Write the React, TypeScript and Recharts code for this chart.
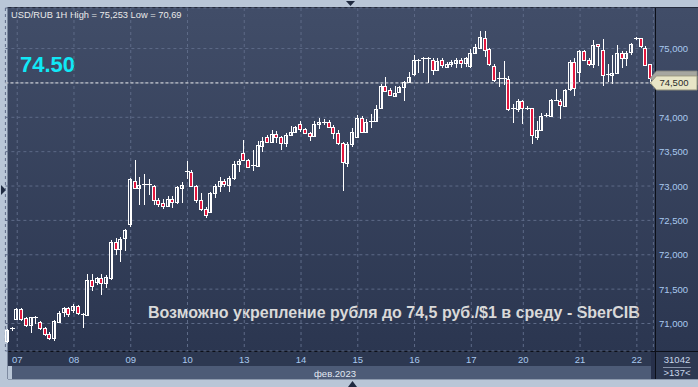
import React from 'react';
import { ComposedChart, Bar, XAxis, YAxis, CartesianGrid, ReferenceLine } from 'recharts';

// trading days on the axis and how many hourly bars each one holds
const days = ['06', '07', '08', '09', '10', '13', '14', '15', '16', '17', '20', '21', '22'];
const barsPerDay = [2, 12, 12, 12, 12, 12, 12, 12, 12, 11, 12, 12, 4];

const opens = [
  70.74, 70.92,
  71.06, 71.21, 71.08, 70.97, 71.08, 71.02, 70.93, 70.85, 70.78, 71.03, 71.16, 71.22,
  71.19, 71.25, 71.13, 71.13, 71.64, 71.6, 71.66, 71.59, 71.66, 72.19, 72.09, 72.24,
  72.45, 73.08, 72.97, 73.02, 73.02, 73.0, 72.8, 72.76, 72.71, 72.81, 72.76, 72.98,
  73.21, 73.21, 73.0, 72.8, 72.67, 72.62, 72.9, 72.99, 73.07, 73.01, 73.11, 73.32,
  73.48, 73.38, 73.28, 73.29, 73.59, 73.71, 73.64, 73.76, 73.71, 73.62, 73.74, 73.78,
  73.9, 73.83, 73.77, 73.72, 73.9, 73.93, 73.93, 73.86, 73.77, 73.62, 73.34, 73.61,
  73.72, 73.99, 73.78, 73.93, 73.94, 74.13, 74.46, 74.39, 74.31, 74.36, 74.43, 74.52,
  74.64, 74.84, 74.86, 74.86, 74.83, 74.69, 74.83, 74.74, 74.77, 74.78, 74.83, 74.78,
  74.74, 74.93, 75.01, 75.16, 74.99, 74.74, 74.56, 74.57, 74.55, 74.12, 74.12,
  74.24, 74.14, 74.13, 73.72, 73.82, 74.02, 74.02, 74.24, 74.24, 74.17, 74.4, 74.8,
  74.65, 74.96, 74.83, 74.77, 75.06, 74.98, 74.62, 74.62, 74.65, 74.94, 74.87, 74.94,
  75.14, 75.15, 75.01, 74.77,
];
const highs = [
  70.92, 70.95,
  71.23, 71.23, 71.09, 71.1, 71.11, 71.03, 70.95, 70.87, 71.05, 71.18, 71.24, 71.24,
  71.29, 71.27, 71.15, 71.72, 71.72, 71.68, 71.72, 71.71, 72.21, 72.24, 72.26, 72.38,
  73.11, 73.38, 73.13, 73.17, 73.1, 73.01, 72.83, 72.81, 72.85, 72.86, 73.0, 73.06,
  73.36, 73.23, 73.01, 72.9, 72.69, 72.91, 73.03, 73.13, 73.1, 73.15, 73.36, 73.4,
  73.67, 73.39, 73.53, 73.66, 73.72, 73.74, 73.82, 73.8, 73.73, 73.77, 73.87, 73.88,
  73.95, 73.85, 73.79, 73.95, 73.99, 73.98, 73.96, 73.89, 73.82, 73.64, 73.64, 73.85,
  74.04, 74.02, 73.97, 74.05, 74.18, 74.48, 74.58, 74.42, 74.46, 74.46, 74.53, 74.66,
  74.91, 74.85, 74.88, 74.87, 74.86, 74.86, 74.86, 74.8, 74.84, 74.86, 74.86, 74.87,
  75.0, 75.06, 75.25, 75.25, 75.01, 74.77, 74.66, 74.82, 74.6, 74.2, 74.27,
  74.25, 74.16, 74.14, 73.94, 74.06, 74.06, 74.26, 74.41, 74.27, 74.41, 74.83, 74.86,
  74.98, 74.98, 74.86, 75.12, 75.06, 75.14, 74.77, 74.91, 75.05, 74.96, 74.96, 75.08,
  75.17, 75.15, 75.03, 74.78,
];
const lows = [
  70.72, 70.89,
  71.05, 71.03, 70.95, 70.86, 71.0, 70.91, 70.82, 70.76, 70.74, 71.01, 71.1, 71.1,
  71.15, 71.12, 70.94, 71.12, 71.48, 71.56, 71.42, 71.51, 71.64, 72.0, 71.9, 72.05,
  72.4, 72.96, 72.72, 72.72, 72.87, 72.72, 72.7, 72.66, 72.7, 72.68, 72.74, 72.76,
  73.1, 73.0, 72.75, 72.64, 72.53, 72.61, 72.83, 72.91, 72.98, 72.91, 73.09, 73.21,
  73.36, 73.26, 73.22, 73.28, 73.5, 73.63, 73.62, 73.63, 73.52, 73.57, 73.73, 73.78,
  73.79, 73.76, 73.66, 73.71, 73.83, 73.89, 73.84, 73.69, 73.6, 72.93, 73.28, 73.57,
  73.71, 73.77, 73.77, 73.84, 73.93, 74.12, 74.37, 74.31, 74.3, 74.35, 74.24, 74.51,
  74.6, 74.65, 74.64, 74.5, 74.61, 74.67, 74.71, 74.71, 74.73, 74.72, 74.72, 74.73,
  74.72, 74.92, 75.0, 74.87, 74.75, 74.52, 74.44, 74.47, 74.09, 73.92, 74.08,
  73.9, 74.11, 73.61, 73.67, 73.82, 74.0, 74.01, 74.23, 73.98, 74.16, 74.38, 74.31,
  74.52, 74.82, 74.74, 74.71, 74.75, 74.46, 74.52, 74.48, 74.65, 74.72, 74.74, 74.91,
  75.12, 75.01, 74.75, 74.49,
];
const closes = [
  70.9, 70.93,
  71.21, 71.07, 70.98, 71.09, 71.09, 70.93, 70.84, 70.79, 71.03, 71.16, 71.22, 71.13,
  71.25, 71.15, 71.14, 71.64, 71.55, 71.66, 71.59, 71.68, 72.19, 72.09, 72.23, 72.36,
  73.1, 72.98, 73.01, 73.03, 73.03, 72.79, 72.74, 72.71, 72.81, 72.76, 72.98, 73.02,
  73.22, 73.0, 72.8, 72.67, 72.58, 72.9, 73.0, 73.07, 73.02, 73.11, 73.32, 73.36,
  73.38, 73.28, 73.3, 73.59, 73.66, 73.64, 73.76, 73.71, 73.62, 73.74, 73.79, 73.86,
  73.82, 73.77, 73.73, 73.9, 73.93, 73.93, 73.86, 73.77, 73.62, 73.34, 73.61, 73.79,
  73.99, 73.79, 73.93, 73.95, 74.12, 74.45, 74.39, 74.32, 74.35, 74.44, 74.51, 74.59,
  74.84, 74.83, 74.86, 74.86, 74.68, 74.82, 74.75, 74.78, 74.8, 74.83, 74.79, 74.86,
  74.93, 75.02, 75.17, 74.99, 74.77, 74.54, 74.57, 74.57, 74.12, 74.13, 74.24,
  74.14, 74.14, 73.74, 73.82, 74.02, 74.03, 74.25, 74.25, 74.18, 74.4, 74.8, 74.42,
  74.96, 74.83, 74.77, 75.05, 75.03, 74.62, 74.63, 74.65, 74.94, 74.87, 74.94, 75.06,
  75.15, 75.03, 74.76, 74.57,
];

const yTicks = [71, 71.5, 72, 72.5, 73, 73.5, 74, 74.5, 75];
const target = 74.5;

const data: any[] = [];
let n = 0;
days.forEach((d, di) => {
  for (let h = 0; h < barsPerDay[di]; h++) {
    data.push({ t: `${d}-${h}`, day: d, o: opens[n], h: highs[n], l: lows[n], c: closes[n], range: [lows[n], highs[n]] });
    n++;
  }
});
const dayTicks = days.slice(1).map((d) => `${d}-0`);

const font = 'Liberation Sans, Arial, sans-serif';
const fmt = (v: number) => v.toFixed(3).replace('.', ',');

const Candle = (props: any) => {
  const { x, y, width, height, payload } = props;
  if (!payload || x == null) return null;
  const { o, c, h, l } = payload;
  const top = Math.min(y, y + height);
  const span = Math.abs(height);
  const k = h - l > 0 ? span / (h - l) : 0;
  const bTop = top + (h - Math.max(o, c)) * k;
  const bBot = top + (h - Math.min(o, c)) * k;
  const cx = Math.round(x + width / 2) - 0.5;
  const up = c >= o;
  return (
    <g shapeRendering="crispEdges">
      <line x1={cx} x2={cx} y1={top} y2={top + span} stroke="#ffffff" strokeWidth={1} />
      {bBot - bTop < 1.5 ? (
        <line x1={cx - 2.5} x2={cx + 2.5} y1={Math.round(bTop) + 0.5} y2={Math.round(bTop) + 0.5} stroke="#ffffff" />
      ) : (
        <rect x={cx - 2} y={Math.round(bTop) + 0.5} width={3} height={Math.max(1, Math.round(bBot - bTop))}
          fill={up ? 'none' : '#e3173e'} stroke="#ffffff" strokeWidth={1} />
      )}
    </g>
  );
};

// price tag on the right axis; the one behind only peeks out above the front tag
const PriceTag = (props: any) => {
  const vb = props.viewBox || {};
  const y = vb.y;
  const r = (vb.x || 0) + (vb.width || 0);
  const clipId = `tag-${props.id}`;
  return (
    <g>
      {props.peek && (
        <defs>
          <clipPath id={clipId}>
            <rect x={r} y={y - 8} width={50} height={props.peek} />
          </clipPath>
        </defs>
      )}
      <path d={`M${r - 3},${y} L${r + 3},${y - 7} H697 V${y + 7} H${r + 3} Z`} fill={props.fill} stroke={props.edge} strokeWidth={1} />
      <text x={r + 6} y={y + 3.5} fill="#2a2a2a" fontSize={9.5} fontFamily={font}
        clipPath={props.peek ? `url(#${clipId})` : undefined}>{props.text}</text>
    </g>
  );
};

export default function App() {
  return (
    <div style={{ position: 'absolute', left: 0, top: 0, width: 698, height: 387 }}>
      <svg width={698} height={387} style={{ position: 'absolute', left: 0, top: 0 }}>
        <defs>
          <linearGradient id="pg" x1="0" y1="0" x2="0" y2="1">
            <stop offset="0" stopColor="#414d68" />
            <stop offset="1" stopColor="#2b3650" />
          </linearGradient>
        </defs>
        <rect x={0} y={0} width={698} height={387} fill="#b9c6d7" />
        <rect x={8} y={8} width={690} height={344} fill="url(#pg)" />
        <rect x={8} y={352} width={690} height={14} fill="#2d3851" />
        <rect x={12} y={366} width={639} height={13} fill="#4d5b77" />
        <rect x={651} y={352} width={4} height={27} fill="#27304a" />
        <rect x={655} y={352} width={43} height={27} fill="#2d3851" />
        <line x1={7.5} x2={7.5} y1={7.5} y2={379} stroke="#7d8aa0" />
        <line x1={7.5} x2={698} y1={7.5} y2={7.5} stroke="#232a3c" />
        <line x1={8} x2={698} y1={351.5} y2={351.5} stroke="#0c0f18" />
        <line x1={655.5} x2={655.5} y1={8} y2={379} stroke="#0c0f18" />
        <line x1={8} x2={698} y1={379.5} y2={379.5} stroke="#8c99ad" />
        <line x1={663} x2={691} y1={367.5} y2={367.5} stroke="#8793aa" />
        <text x={677} y={363} textAnchor="middle" fill="#c8d6ea" fontSize={9.5} fontFamily={font}>31042</text>
        <text x={677} y={376} textAnchor="middle" fill="#c8d6ea" fontSize={9.5} fontFamily={font}>&gt;137&lt;</text>
        <text x={335} y={376.5} textAnchor="middle" fill="#e2e8f2" fontSize={9.5} fontFamily={font}>фев.2023</text>
        <polygon points="346,1 355,1 350.5,6" fill="#1f2a40" />
        <polygon points="1,185 1,195 6,190" fill="#1f2a40" />
        <polygon points="348,387 357,387 352.5,381" fill="#1f2a40" />
        <text x={11} y={18} fill="#eaeaea" fontSize={9.3} fontFamily={font}>USD/RUB 1H High = 75,253 Low = 70,69</text>
        <text x={20} y={72} fill="#10e8f6" fontSize={22} fontWeight="bold" fontFamily={font}>74.50</text>
        <text x={148} y={318} fill="#d9d9d9" fontSize={16} fontWeight="bold" fontFamily={font}>
          Возможно укрепление рубля до 74,5 руб./$1 в среду - SberCIB
        </text>
      </svg>
      <div style={{ position: 'absolute', left: 0, top: 0 }}>
        <ComposedChart width={698} height={387} data={data} margin={{ top: 8, right: 0, bottom: 0, left: 5.4 }}>
          <CartesianGrid stroke="#5d6a87" strokeDasharray="3 3" />
          <XAxis dataKey="t" type="category" ticks={dayTicks} interval={0} height={36} axisLine={false} tickLine={false}
            tick={(p: any) => (
              <text x={p.x} y={362.5} textAnchor="middle" fill="#a9c9ef" fontSize={9.5} fontFamily={font}>
                {String(p.payload.value).split('-')[0]}
              </text>
            )} />
          <YAxis orientation="right" type="number" domain={[70.6, 75.59]} allowDataOverflow ticks={yTicks} width={44.6}
            axisLine={false} tickLine={false}
            tick={(p: any) =>
              // the target tag sits on top of this tick label, so it is not drawn
              p.payload.value === target ? <g /> : (
                <text x={659} y={p.y + 3.5} fill="#a9c9ef" fontSize={9.5} fontFamily={font}>{fmt(p.payload.value)}</text>
              )
            } />
          <Bar dataKey="range" isAnimationActive={false} shape={(p: any) => <Candle {...p} />} />
          <ReferenceLine y={closes[closes.length - 1]} stroke="none" ifOverflow="visible"
            label={<PriceTag id="last" peek={4.5} fill="#a7a7a0" edge="#8d8d86" text={fmt(closes[closes.length - 1])} />} />
          <ReferenceLine y={target} stroke="#e6e6e6" strokeDasharray="3 2" ifOverflow="visible"
            label={<PriceTag id="target" fill="#e8e5c6" edge="#9a9880" text={fmt(target)} />} />
        </ComposedChart>
      </div>
    </div>
  );
}
